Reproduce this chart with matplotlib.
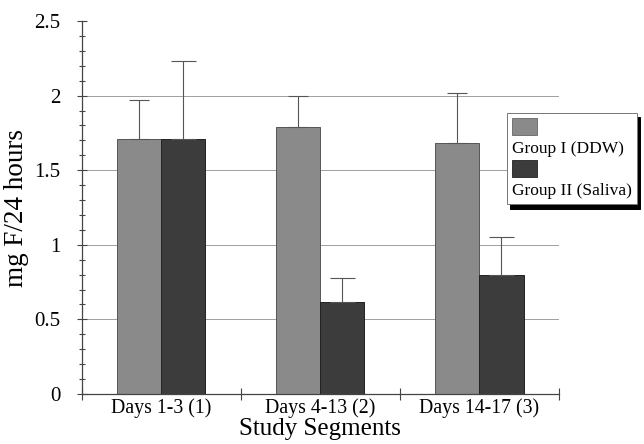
import numpy as np
import matplotlib
matplotlib.use("Agg")
import matplotlib.pyplot as plt
from matplotlib.patches import Rectangle, Patch
from matplotlib.ticker import MultipleLocator, FixedLocator

categories = ["Days 1-3 (1)", "Days 4-13 (2)", "Days 14-17 (3)"]
group1 = [1.71, 1.79, 1.68]
group1_err = [0.26, 0.21, 0.34]
group2 = [1.71, 0.62, 0.80]
group2_err = [0.52, 0.16, 0.25]
series_labels = ["Group I (DDW)", "Group II (Saliva)"]
yticks = [0, 0.5, 1, 1.5, 2, 2.5]
ytick_labels = ["0", "0.5", "1", "1.5", "2", "2.5"]

c1 = "#8a8a8a"
c2 = "#3c3c3c"

plt.rcParams['font.family'] = ['Liberation Serif', 'DejaVu Serif']

fig = plt.figure(figsize=(6.44, 4.44), dpi=100)
ax = fig.add_axes([0.127, 0.1126, 0.741, 0.840])

x = np.arange(len(categories))
w = 0.277
ax.bar(x - w/2, group1, w, color=c1, edgecolor="#555555", linewidth=0.7, zorder=2)
ax.bar(x + w/2, group2, w, color=c2, edgecolor="#222222", linewidth=0.7, zorder=2)
ax.errorbar(x - w/2, group1, yerr=[np.zeros(3), group1_err], fmt='none',
            ecolor="#555555", elinewidth=0.8, capsize=7.5, capthick=0.8, zorder=3)
ax.errorbar(x + w/2, group2, yerr=[np.zeros(3), group2_err], fmt='none',
            ecolor="#555555", elinewidth=0.8, capsize=9, capthick=0.8, zorder=3)

ax.set_xlim(-0.5, 2.5)
ax.set_ylim(0, 2.5)

for v in yticks[1:-1]:
    ax.axhline(v, color="#a0a0a0", linewidth=0.7, zorder=1)

ax.set_yticks(yticks)
ax.set_yticklabels(ytick_labels, fontsize=15)
ax.yaxis.set_minor_locator(MultipleLocator(0.1))
ax.tick_params(axis='y', which='major', direction='inout', length=7, width=0.8, color="#444444", pad=12)
ax.tick_params(axis='y', which='minor', direction='inout', length=4, width=0.8, color="#444444")

ax.set_xticks([-0.5, 0.5, 1.5, 2.5])
ax.set_xticklabels([])
ax.xaxis.set_minor_locator(FixedLocator(x))
ax.set_xticklabels(categories, minor=True, fontsize=14.3)
ax.tick_params(axis='x', which='major', direction='inout', length=9, width=0.8, color="#444444")
ax.tick_params(axis='x', which='minor', length=0, pad=3)

for s in ['top', 'right']:
    ax.spines[s].set_visible(False)
for s in ['left', 'bottom']:
    ax.spines[s].set_color("#444444")
    ax.spines[s].set_linewidth(0.9)

ax.set_ylabel("mg F/24 hours", fontsize=19.5, labelpad=4)
ax.set_xlabel("Study Segments", fontsize=18)
ax.xaxis.set_label_coords(0.5, -0.064)


class BoxHandler:
    def __init__(self, color, edge):
        self.color = color
        self.edge = edge

    def legend_artist(self, legend, orig_handle, fontsize, handlebox):
        x0, y0 = -handlebox.xdescent, -handlebox.ydescent
        h = handlebox.height
        r = Rectangle((x0, y0), 18, h, facecolor=self.color,
                      edgecolor=self.edge, linewidth=0.6,
                      transform=handlebox.get_transform())
        handlebox.add_artist(r)
        return r


class Blank:
    pass


h1 = Patch(facecolor=c1)
h2 = Patch(facecolor=c2)
b1 = Blank()
b2 = Blank()


class BlankHandler:
    def legend_artist(self, legend, orig_handle, fontsize, handlebox):
        r = Rectangle((0, 0), 0, 0, visible=False, transform=handlebox.get_transform())
        handlebox.add_artist(r)
        return r


leg = fig.legend([h1, b1, h2, b2], [" ", series_labels[0], " ", series_labels[1]],
                 handler_map={h1: BoxHandler(c1, "#666666"), h2: BoxHandler(c2, "#222222"),
                              b1: BlankHandler(), b2: BlankHandler()},
                 loc='upper left', bbox_to_anchor=(0.787, 0.746), fontsize=12.5,
                 handlelength=0, handletextpad=0, handleheight=1.12, labelspacing=0.15,
                 borderpad=0.3, borderaxespad=0, frameon=True, fancybox=False,
                 shadow={'color': 'black', 'alpha': 1.0, 'ox': 2, 'oy': -3})
leg.get_frame().set_edgecolor("#777777")
leg.get_frame().set_linewidth(0.7)

fig.savefig("out.png", dpi=100)
